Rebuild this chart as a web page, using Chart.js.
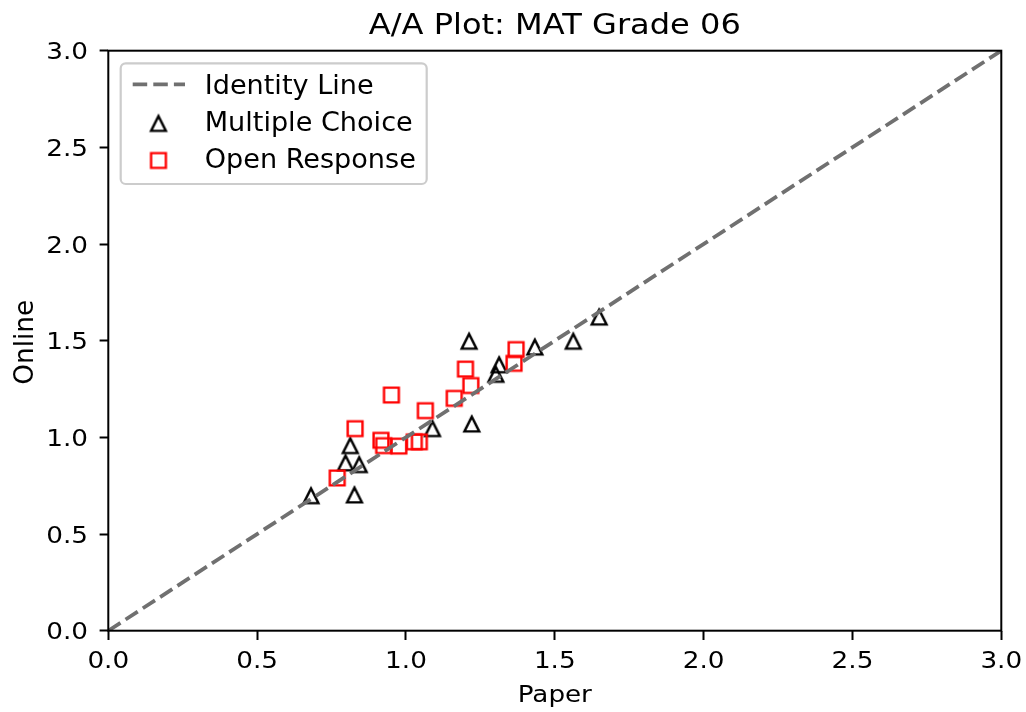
<!DOCTYPE html>
<html>
<head>
<meta charset="utf-8">
<title>A/A Plot: MAT Grade 06</title>
<script src="https://cdn.jsdelivr.net/npm/chart.js@4.4.1/dist/chart.umd.min.js"></script>
<style>
  html, body { margin: 0; padding: 0; background: #fff; }
  #wrap { width: 1026px; height: 712px; }
  canvas { display: block; }
</style>
</head>
<body>
<div id="wrap"><canvas id="chart" width="1026" height="712"></canvas></div>
<script>
// Multiple choice items: mean score on paper vs. online
const mcPaper  = [0.681, 0.827, 0.813, 0.797, 0.843, 1.089, 1.221, 1.212, 1.313, 1.302, 1.433, 1.562, 1.649];
const mcOnline = [0.698, 0.702, 0.957, 0.868, 0.859, 1.045, 1.069, 1.497, 1.375, 1.326, 1.467, 1.497, 1.622];

// Open response items: mean score on paper vs. online
const orPaper  = [0.769, 0.829, 0.916, 0.925, 0.976, 1.028, 1.045, 0.951, 1.065, 1.162, 1.200, 1.218, 1.363, 1.370];
const orOnline = [0.790, 1.045, 0.985, 0.957, 0.955, 0.977, 0.977, 1.219, 1.138, 1.202, 1.353, 1.268, 1.383, 1.454];

// Identity line end points (paper = online)
const identityX = [0, 3];
const identityY = [0, 3];

// Axis ticks
const tickValues = [0, 0.5, 1.0, 1.5, 2.0, 2.5, 3.0];
const tickLabels = ['0.0', '0.5', '1.0', '1.5', '2.0', '2.5', '3.0'];

const seriesNames = ['Identity Line', 'Multiple Choice', 'Open Response'];
const chartTitle = 'A/A Plot: MAT Grade 06';
const xTitle = 'Paper';
const yTitle = 'Online';

const FONT = "'DejaVu Sans', 'Liberation Sans', sans-serif";
const MARK_H = 7.4;             // half marker size
const MARK_LW = 2.4;
const LINE_LW = 3.8;
const DASH = [14.5, 6.1];
const LINE_COLOR = '#707070';

function pairs(xs, ys) { return xs.map((x, i) => ({ x: x, y: ys[i] })); }

// Hollow marker sprites
function makeMarker(shape, color) {
  const c = document.createElement('canvas');
  c.width = 26; c.height = 26;
  const g = c.getContext('2d');
  const h = MARK_H, cx = 13, cy = 13;
  g.strokeStyle = color;
  g.lineWidth = MARK_LW;
  g.lineJoin = 'miter';
  g.beginPath();
  if (shape === 'triangle') {
    g.moveTo(cx, cy - h);
    g.lineTo(cx - h, cy + h);
    g.lineTo(cx + h, cy + h);
    g.closePath();
  } else {
    g.rect(cx - h, cy - h, 2 * h, 2 * h);
  }
  g.stroke();
  return c;
}
const triMarker = makeMarker('triangle', '#000000');
const sqMarker = makeMarker('square', '#ff0000');

function axisTicks(scale) {
  scale.ticks = tickValues.map(v => ({ value: v }));
}

// text with its own vertical squash factor
function drawText(ctx, text, x, y, size, vscale, align, rotate) {
  ctx.save();
  ctx.translate(x, y);
  if (rotate) ctx.rotate(-Math.PI / 2);
  ctx.scale(1, vscale);
  ctx.font = size + 'px ' + FONT;
  ctx.textAlign = align;
  ctx.textBaseline = 'alphabetic';
  ctx.fillStyle = '#000';
  ctx.fillText(text, 0, 0);
  ctx.restore();
}

const decorations = {
  id: 'decorations',
  afterDraw(chart) {
    const ctx = chart.ctx;
    const a = chart.chartArea;
    const xs = chart.scales.x, ys = chart.scales.y;
    ctx.save();

    // frame
    ctx.strokeStyle = '#000';
    ctx.lineWidth = 2;
    ctx.lineJoin = 'miter';
    ctx.strokeRect(a.left, a.top, a.right - a.left, a.bottom - a.top);

    // tick labels
    tickValues.forEach((v, i) => {
      drawText(ctx, tickLabels[i], xs.getPixelForValue(v), 668.3, 26.3, 0.9, 'center');
      drawText(ctx, tickLabels[i], 88, ys.getPixelForValue(v) + 8.6, 26.3, 0.9, 'right');
    });

    // title and axis titles
    const cx = (a.left + a.right) / 2;
    drawText(ctx, chartTitle, cx, 33.8, 32.1, 0.86, 'center');
    drawText(ctx, xTitle, cx, 701.7, 26.2, 0.88, 'center');
    drawText(ctx, yTitle, 33.3, 342.3, 26.4, 1.0, 'center', true);

    // legend
    const lx = 120.7, ly = 63.3, lw = 306, lh = 120.7;
    ctx.beginPath();
    ctx.roundRect(lx, ly, lw, lh, 5);
    ctx.fillStyle = 'rgba(255,255,255,0.8)';
    ctx.fill();
    ctx.strokeStyle = '#cccccc';
    ctx.lineWidth = 2.2;
    ctx.stroke();

    const rowBase = [94, 130.7, 167.5];
    const rowMid = [84.3, 123.5, 160.5];
    ctx.beginPath();
    ctx.strokeStyle = LINE_COLOR;
    ctx.lineWidth = LINE_LW;
    ctx.lineCap = 'butt';
    ctx.setLineDash(DASH);
    ctx.moveTo(132.7, rowMid[0]);
    ctx.lineTo(185, rowMid[0]);
    ctx.stroke();
    ctx.setLineDash([]);
    ctx.drawImage(triMarker, 158.5 - 13, rowMid[1] - 13);
    ctx.drawImage(sqMarker, 158.5 - 13, rowMid[2] - 13);

    seriesNames.forEach((name, i) => drawText(ctx, name, 204.7, rowBase[i], 27.1, 0.96, 'left'));

    ctx.restore();
  }
};

new Chart(document.getElementById('chart'), {
  type: 'scatter',
  data: {
    datasets: [
      {
        label: seriesNames[0],
        data: pairs(identityX, identityY),
        showLine: true,
        borderColor: LINE_COLOR,
        borderWidth: LINE_LW,
        borderDash: DASH,
        borderCapStyle: 'butt',
        pointRadius: 0,
        pointHoverRadius: 0,
        fill: false,
        order: 0
      },
      {
        label: seriesNames[1],
        data: pairs(mcPaper, mcOnline),
        pointStyle: triMarker,
        pointRadius: 7,
        pointHoverRadius: 7,
        order: 2
      },
      {
        label: seriesNames[2],
        data: pairs(orPaper, orOnline),
        pointStyle: sqMarker,
        pointRadius: 7,
        pointHoverRadius: 7,
        order: 1
      }
    ]
  },
  options: {
    responsive: false,
    animation: false,
    devicePixelRatio: 1,
    events: [],
    layout: { padding: { top: 50.7, right: 24.7, left: 0, bottom: 0 } },
    plugins: {
      legend: { display: false },
      title: { display: false },
      tooltip: { enabled: false }
    },
    scales: {
      x: {
        type: 'linear',
        position: 'bottom',
        min: 0, max: 3,
        afterBuildTicks: axisTicks,
        afterFit(scale) { scale.height = 712 - 630.7; },
        border: { display: false },
        grid: {
          drawOnChartArea: false, drawTicks: true,
          tickLength: 9.3, tickWidth: 2, tickColor: '#000'
        },
        ticks: { display: false, autoSkip: false }
      },
      y: {
        type: 'linear',
        position: 'left',
        min: 0, max: 3,
        afterBuildTicks: axisTicks,
        afterFit(scale) { scale.width = 108.3; },
        border: { display: false },
        grid: {
          drawOnChartArea: false, drawTicks: true,
          tickLength: 8.7, tickWidth: 2, tickColor: '#000'
        },
        ticks: { display: false, autoSkip: false }
      }
    }
  },
  plugins: [decorations]
});
</script>
</body>
</html>
